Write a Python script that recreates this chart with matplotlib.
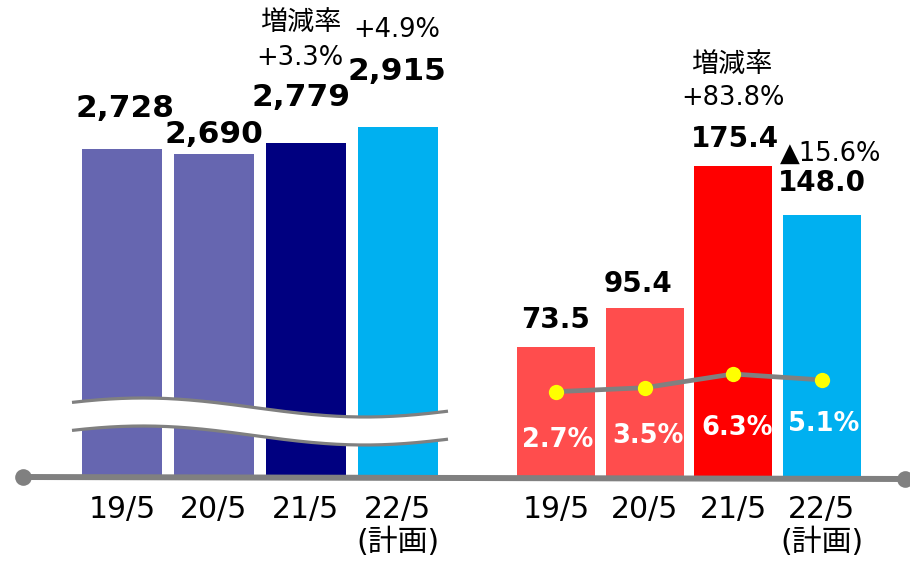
import numpy as np
import matplotlib
matplotlib.use('Agg')
import matplotlib.pyplot as plt

plt.rcParams['font.family'] = ['DejaVu Sans', 'Noto Sans CJK JP']

# data
periods = ['19/5', '20/5', '21/5', '22/5']
plan_note = '(計画)'
sales = [2728, 2690, 2779, 2915]
profit = [73.5, 95.4, 175.4, 148.0]
margin = [2.7, 3.5, 6.3, 5.1]
growth_label = '増減率'
sales_growth = ['+3.3%', '+4.9%']
profit_growth = ['+83.8%', '▲15.6%']

sales_colors = ['#6666B0', '#6666B0', '#000080', '#00B0F0']
profit_colors = ['#FF4D4D', '#FF4D4D', '#FF0000', '#00B0F0']
GRAY = '#808080'

# layout (x axis in pixel-like units across the figure width)
W, H = 910, 562
base_px = 477
x_left = [122 + 92 * i for i in range(4)]
x_right = [556 + 88.5 * i for i in range(4)]

fig = plt.figure(figsize=(W / 100, H / 100), dpi=100)
ax_l = fig.add_axes([0, (H - base_px) / H, 1, base_px / H])
ax_l.set_xlim(0, W)
ax_l.set_ylim(0, 3972)
ax_r = ax_l.twinx()
ax_r.set_ylim(0, 269)
ax_m = ax_l.twinx()
ax_m.set_ylim(-14.71, 82.6)
for a in (ax_l, ax_r, ax_m):
    a.axis('off')
    a.patch.set_visible(False)

# sales bars (left group)
ax_l.bar(x_left, sales, width=80.5, color=sales_colors, linewidth=0)
sales_off = [(2.5, 32), (0, 11), (-4.5, 37.5), (-1, 47)]
for x, v, (dx, dy) in zip(x_left, sales, sales_off):
    ax_l.annotate(f'{v:,}', (x, v), xytext=(dx, dy), textcoords='offset pixels',
                  ha='center', va='baseline', fontsize=22.5, fontweight='bold',
                  annotation_clip=False)

# operating profit bars (right group)
ax_r.bar(x_right, profit, width=78, color=profit_colors, linewidth=0)
profit_off = [(0, 19), (-6.5, 16), (2, 19), (0, 24)]
for x, v, (dx, dy) in zip(x_right, profit, profit_off):
    ax_r.annotate(f'{v:.1f}', (x, v), xytext=(dx, dy), textcoords='offset pixels',
                  ha='center', va='baseline', fontsize=20, fontweight='bold',
                  annotation_clip=False)

# margin line
ax_m.plot(x_right, margin, color=GRAY, linewidth=3.4, zorder=3,
          marker='o', markersize=11, markerfacecolor='#FFFF00',
          markeredgewidth=0)
margin_off = [(2, -55.5), (3.3, -55), (4.3, -61), (2, -51)]
for x, m, (dx, dy) in zip(x_right, margin, margin_off):
    ax_m.annotate(f'{m:.1f}%', (x, m), xytext=(dx, dy), textcoords='offset pixels',
                  ha='center', va='baseline', fontsize=18.5, fontweight='bold',
                  color='white', annotation_clip=False)

# decoration layer in pixel coordinates
deco = fig.add_axes([0, 0, 1, 1], zorder=5)
deco.set_xlim(0, W)
deco.set_ylim(H, 0)
deco.axis('off')
deco.patch.set_visible(False)

# wavy axis break over the sales bars
wx = np.linspace(72, 448, 200)
wy = 407.5 - 9.5 * np.cos(2 * np.pi * (wx - 143) / 444)
deco.fill_between(wx, wy, wy + 28, color='white', linewidth=0)
deco.plot(wx, wy, color=GRAY, linewidth=2.3, solid_capstyle='butt')
deco.plot(wx, wy + 28, color=GRAY, linewidth=2.3, solid_capstyle='butt')

# baseline with round ends
deco.plot([23, 905], [477, 479], color=GRAY, linewidth=4.3,
          marker='o', markersize=12, markeredgewidth=0)

# period labels
for xs in (x_left, x_right):
    for x, p in zip(xs, periods):
        deco.text(x, 518, p, ha='center', va='baseline', fontsize=21.5)
    deco.text(xs[-1], 542, plan_note, ha='center', va='center', fontsize=21.5)

# growth rate notes
deco.text(301, 23, growth_label, ha='center', va='center', fontsize=19.5)
deco.text(299.5, 65, sales_growth[0], ha='center', va='baseline', fontsize=18.5)
deco.text(397, 37, sales_growth[1], ha='center', va='baseline', fontsize=18.5)
deco.text(731.5, 65, growth_label, ha='center', va='center', fontsize=19.5)
deco.text(732.5, 105, profit_growth[0], ha='center', va='baseline', fontsize=18.5)
deco.text(830.5, 161, profit_growth[1], ha='center', va='baseline', fontsize=18.5)

fig.savefig('out.png', dpi=100)
